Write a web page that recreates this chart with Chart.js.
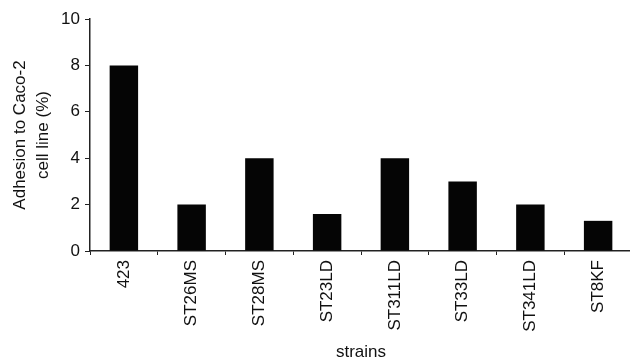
<!DOCTYPE html>
<html>
<head>
<meta charset="utf-8">
<script src="https://cdn.jsdelivr.net/npm/chart.js@4/dist/chart.umd.min.js"></script>
<style>
  html, body { margin: 0; padding: 0; background: #fff; overflow: hidden; }
  #wrap { width: 632px; height: 363px; }
</style>
</head>
<body>
<div id="wrap"><canvas id="c" width="632" height="363"></canvas></div>
<script>
// Strains tested and their adhesion to the Caco-2 cell line (%)
const strains = ['423', 'ST26MS', 'ST28MS', 'ST23LD', 'ST311LD', 'ST33LD', 'ST341LD', 'ST8KF'];
const adhesion = [8, 2, 4, 1.6, 4, 3, 2, 1.3];
const yTicks = [0, 2, 4, 6, 8, 10];

Chart.defaults.font.family = '"Liberation Sans", Arial, sans-serif';
Chart.defaults.font.size = 17;
Chart.defaults.color = '#111';

new Chart(document.getElementById('c'), {
  type: 'bar',
  data: {
    labels: strains,
    datasets: [{
      data: adhesion,
      backgroundColor: '#050505',
      borderWidth: 0,
      categoryPercentage: 1,
      barPercentage: 0.42
    }]
  },
  options: {
    responsive: false,
    animation: false,
    layout: { padding: { top: 19, left: 0, right: 0, bottom: 0 } },
    plugins: { legend: { display: false }, tooltip: { enabled: false } },
    scales: {
      x: {
        grid: { drawOnChartArea: false, drawTicks: true, tickLength: 4, color: '#222', offset: true },
        border: { display: true, color: '#222', width: 1.5 },
        ticks: { minRotation: 90, maxRotation: 90, autoSkip: false, padding: 5, color: '#111' },
        title: { display: true, text: 'strains', padding: { top: 0, bottom: 0 }, color: '#111' },
        afterFit: s => { s.height = 112; }
      },
      y: {
        min: 0,
        max: 10,
        afterBuildTicks: s => { s.ticks = yTicks.map(v => ({ value: v })); },
        grid: { drawOnChartArea: false, drawTicks: true, tickLength: 5, color: '#222' },
        border: { display: true, color: '#222', width: 1.5 },
        ticks: { padding: 5, color: '#111' },
        title: {
          display: true,
          text: ['Adhesion to Caco-2', 'cell line (%)'],
          padding: { top: 9, bottom: 0 },
          font: { size: 17, lineHeight: 1.35 },
          color: '#111'
        },
        afterFit: s => { s.width = 90; }
      }
    }
  }
});
</script>
</body>
</html>
